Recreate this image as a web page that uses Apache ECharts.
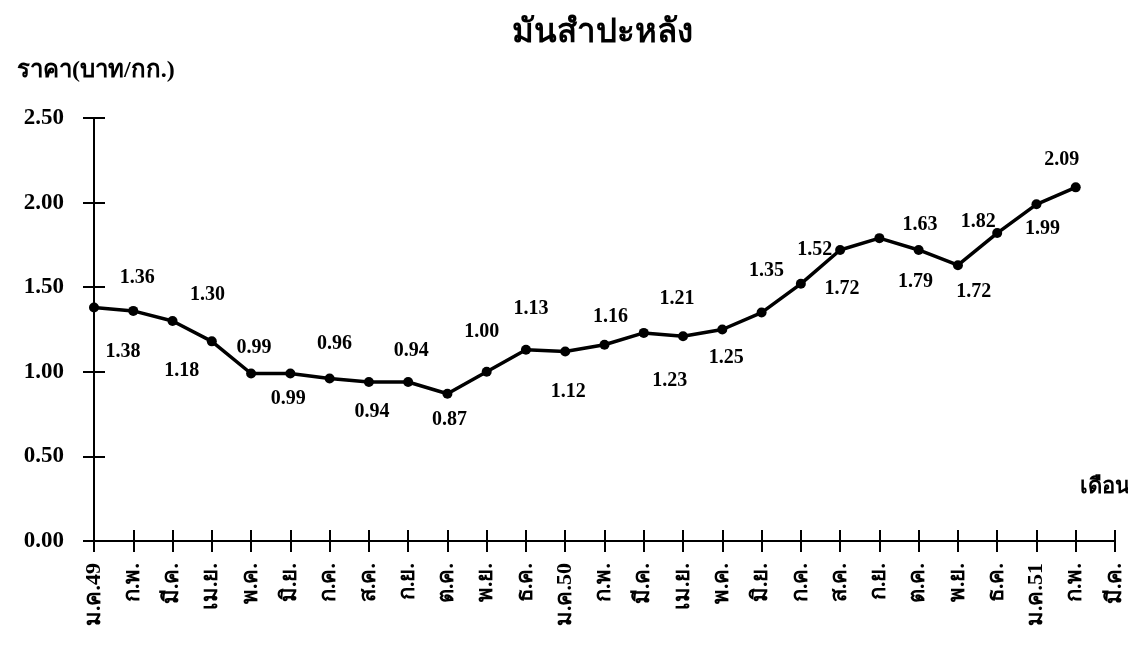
<!DOCTYPE html>
<html>
<head>
<meta charset="utf-8">
<script src="https://cdn.jsdelivr.net/npm/echarts@6/dist/echarts.min.js"></script>
<style>
html,body{margin:0;padding:0;background:#fff;}
#c{width:1128px;height:646px;}
</style>
</head>
<body>
<div id="c"></div>
<script>
// ---- data ----
var titleText = 'มันสำปะหลัง';
var yName = 'ราคา(บาท/กก.)';
var xName = 'เดือน';
var categories = ['ม.ค.49','ก.พ.','มี.ค.','เม.ย.','พ.ค.','มิ.ย.','ก.ค.','ส.ค.','ก.ย.','ต.ค.','พ.ย.','ธ.ค.',
  'ม.ค.50','ก.พ.','มี.ค.','เม.ย.','พ.ค.','มิ.ย.','ก.ค.','ส.ค.','ก.ย.','ต.ค.','พ.ย.','ธ.ค.',
  'ม.ค.51','ก.พ.','มี.ค.'];
var prices = [1.38,1.36,1.30,1.18,0.99,0.99,0.96,0.94,0.94,0.87,1.00,1.13,
  1.12,1.16,1.23,1.21,1.25,1.35,1.52,1.72,1.79,1.72,1.63,1.82,1.99,2.09];
var yTicks = [0,0.5,1.0,1.5,2.0,2.5];

// ---- styling (label placement relative to each point, in px) ----
var labelOffsets = [[29,44],[4,-33],[35,-26],[-30,29],[3,-26],[-2,25],[5,-35],[3,30],[3,-31],[2,26],
  [-5,-40],[5,-41],[3,40],[6,-28],[26,48],[-6,-37],[4,28],[5,-42],[14,-34],[2,39],
  [36,44],[55,42],[-38,-40],[-19,-11],[6,25],[-14,-28]];

var serif = '"Liberation Serif","Times New Roman",serif';
var chart = echarts.init(document.getElementById('c'));
chart.setOption({
  animation:false,
  backgroundColor:'#fff',
  title:{text:titleText, left:597, top:12, textAlign:'center',
    textStyle:{fontSize:33, fontWeight:'bold', color:'#000', fontFamily:serif}},
  graphic:[
    {type:'text', left:17, top:59, style:{text:yName, fill:'#000', font:'bold 24px '+serif}},
    {type:'text', left:1080, top:476, style:{text:xName, fill:'#000', font:'bold 22px '+serif}}
  ],
  grid:{left:94, right:13, top:118, bottom:105, containLabel:false},
  xAxis:[{
    type:'category', data:categories, boundaryGap:false,
    axisLine:{lineStyle:{color:'#000', width:2}},
    axisTick:{show:true, interval:0, length:11, lineStyle:{color:'#000', width:2}},
    axisLabel:{interval:0, rotate:90, margin:22, color:'#000', fontSize:22, fontWeight:'bold', fontFamily:serif},
    splitLine:{show:false}
  },{
    type:'category', data:categories, boundaryGap:false, position:'bottom',
    axisLine:{show:false},
    axisTick:{show:true, inside:true, interval:0, length:11, lineStyle:{color:'#000', width:2}},
    axisLabel:{show:false}, splitLine:{show:false}
  }],
  yAxis:[{
    type:'value', min:yTicks[0], max:yTicks[yTicks.length-1], interval:yTicks[1]-yTicks[0],
    axisLine:{show:true, lineStyle:{color:'#000', width:2}},
    axisTick:{show:true, length:11, lineStyle:{color:'#000', width:2}},
    axisLabel:{margin:30, color:'#000', fontSize:23, fontWeight:'bold', fontFamily:serif,
      formatter:function(v){return v.toFixed(2);}},
    splitLine:{show:false}
  },{
    type:'value', min:yTicks[0], max:yTicks[yTicks.length-1], interval:yTicks[1]-yTicks[0], position:'left',
    axisLine:{show:false},
    axisTick:{show:true, inside:true, length:11, lineStyle:{color:'#000', width:2}},
    axisLabel:{show:false}, splitLine:{show:false}
  }],
  series:[{
    type:'line', xAxisIndex:0, yAxisIndex:0,
    data:prices.map(function(v,i){return {value:v, label:{offset:labelOffsets[i]}};}),
    symbol:'circle', symbolSize:10,
    lineStyle:{color:'#000', width:3.5},
    itemStyle:{color:'#000'},
    label:{show:true, position:'inside', color:'#000', fontSize:20, fontWeight:'bold', fontFamily:serif,
      formatter:function(p){return p.value.toFixed(2);}}
  }]
});
</script>
</body>
</html>
